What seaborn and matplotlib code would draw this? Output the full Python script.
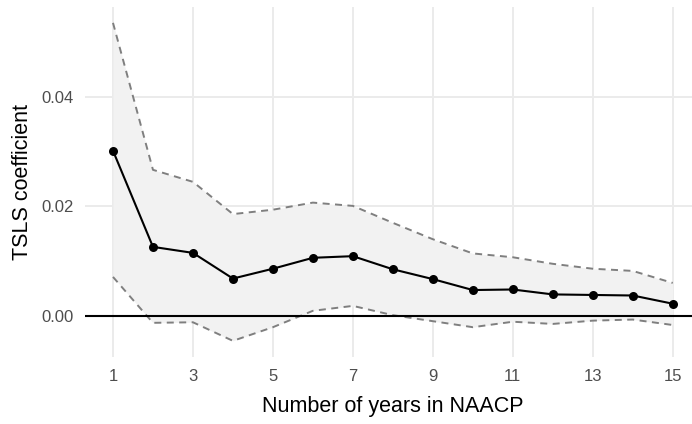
import matplotlib
matplotlib.use("Agg")
import matplotlib.pyplot as plt
import seaborn as sns
import pandas as pd

# values
years = [1, 2, 3, 4, 5, 6, 7, 8, 9, 10, 11, 12, 13, 14, 15]
coef = [0.0302, 0.0126, 0.0115, 0.0068, 0.0086, 0.0106, 0.0109, 0.0085,
        0.0067, 0.0047, 0.0048, 0.0039, 0.0038, 0.0037, 0.0022]
upper = [0.0536, 0.0267, 0.0245, 0.0186, 0.0194, 0.0207, 0.0201, 0.0170,
         0.0140, 0.0114, 0.0107, 0.0095, 0.0086, 0.0082, 0.0060]
lower = [0.0071, -0.0013, -0.0012, -0.0046, -0.0021, 0.0009, 0.0018, 0.0001,
         -0.0010, -0.0021, -0.0011, -0.0015, -0.0009, -0.0007, -0.0017]
x_ticks = [1, 3, 5, 7, 9, 11, 13, 15]
y_ticks = [0.00, 0.02, 0.04]

df = pd.DataFrame({"years": years, "coef": coef, "upper": upper, "lower": lower})

sns.set_theme(style="whitegrid")
plt.rcParams['font.family'] = ['Liberation Sans', 'DejaVu Sans']

fig = plt.figure(figsize=(6.92, 4.24), dpi=100)
# panel runs past the right edge, like the cropped original
ax = fig.add_axes([85 / 692, (424 - 356.7) / 424, 615.7 / 692, 349.7 / 424])

ax.fill_between(df['years'], df['lower'], df['upper'], color='#F2F2F2', linewidth=0, zorder=1)
sns.lineplot(data=df, x='years', y='upper', ax=ax, color='#7F7F7F', linewidth=1.4,
             linestyle=(0, (3.6, 2.8)), zorder=2)
sns.lineplot(data=df, x='years', y='lower', ax=ax, color='#7F7F7F', linewidth=1.4,
             linestyle=(0, (3.6, 2.8)), zorder=2)
ax.axhline(0, color='black', linewidth=1.5, zorder=3)
sns.lineplot(data=df, x='years', y='coef', ax=ax, color='black', linewidth=1.5,
             marker='o', markersize=6.5, markeredgewidth=0, zorder=4)

ax.set_xlim(0.3, 15.7)
ax.set_ylim(-0.0075, 0.0565)
ax.set_xticks(x_ticks)
ax.set_yticks(y_ticks)
ax.set_yticklabels([f"{v:.2f}" for v in y_ticks])

for s in ax.spines.values():
    s.set_visible(False)
ax.set_facecolor('white')
ax.grid(True, color='#EBEBEB', linewidth=1.4)
ax.set_axisbelow(True)
ax.tick_params(axis='both', length=0, labelsize=12, labelcolor='#4D4D4D')
ax.tick_params(axis='x', pad=9)
ax.tick_params(axis='y', pad=8)

ax.set_xlabel('Number of years in NAACP', fontsize=15.5, color='black', va='center')
ax.set_ylabel('TSLS coefficient', fontsize=15.5, color='black', va='center')
ax.xaxis.set_label_coords(0.5, -0.1438)
ax.yaxis.set_label_coords(-0.1007, 0.5)

fig.savefig('out.png', dpi=100, facecolor='white')
